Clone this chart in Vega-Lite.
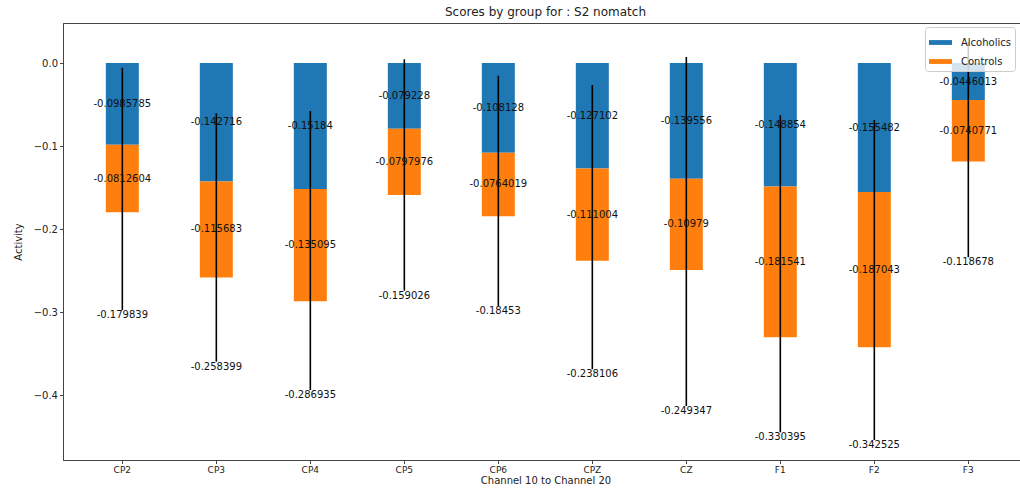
{
  "$schema": "https://vega.github.io/schema/vega-lite/v6.json",
  "width": 957,
  "height": 437,
  "autosize": {"type": "none"},
  "padding": {"left": 63, "top": 23, "right": 0, "bottom": 28},
  "background": "white",
  "config": {
    "font": "DejaVu Sans",
    "view": {"stroke": "#444", "strokeWidth": 1},
    "axis": {"domainColor": "#444", "tickColor": "#444", "labelColor": "#222", "titleColor": "#222", "grid": false, "titleFontWeight": "normal", "labelFont": "DejaVu Sans", "titleFont": "DejaVu Sans"}
  },
  "title": {"text": "Scores by group for : S2 nomatch", "fontSize": 12, "fontWeight": "normal", "font": "DejaVu Sans", "color": "#222", "offset": 4, "dx": 4},
  "datasets": {
    "bars": [
      {"channel": "CP2", "group": "Alcoholics", "value": -0.0985785},
      {"channel": "CP2", "group": "Controls", "value": -0.0812604},
      {"channel": "CP3", "group": "Alcoholics", "value": -0.142716},
      {"channel": "CP3", "group": "Controls", "value": -0.115683},
      {"channel": "CP4", "group": "Alcoholics", "value": -0.15184},
      {"channel": "CP4", "group": "Controls", "value": -0.135095},
      {"channel": "CP5", "group": "Alcoholics", "value": -0.079228},
      {"channel": "CP5", "group": "Controls", "value": -0.0797976},
      {"channel": "CP6", "group": "Alcoholics", "value": -0.108128},
      {"channel": "CP6", "group": "Controls", "value": -0.0764019},
      {"channel": "CPZ", "group": "Alcoholics", "value": -0.127102},
      {"channel": "CPZ", "group": "Controls", "value": -0.111004},
      {"channel": "CZ", "group": "Alcoholics", "value": -0.139556},
      {"channel": "CZ", "group": "Controls", "value": -0.10979},
      {"channel": "F1", "group": "Alcoholics", "value": -0.148854},
      {"channel": "F1", "group": "Controls", "value": -0.181541},
      {"channel": "F2", "group": "Alcoholics", "value": -0.155482},
      {"channel": "F2", "group": "Controls", "value": -0.187043},
      {"channel": "F3", "group": "Alcoholics", "value": -0.0446013},
      {"channel": "F3", "group": "Controls", "value": -0.0740771}
    ],
    "errs": [
      {"channel": "CP2", "total": -0.179839, "errTop": -0.0057, "errLow": -0.2976},
      {"channel": "CP3", "total": -0.258399, "errTop": -0.0606, "errLow": -0.3599},
      {"channel": "CP4", "total": -0.286935, "errTop": -0.0578, "errLow": -0.394},
      {"channel": "CP5", "total": -0.159026, "errTop": 0.0045, "errLow": -0.2743},
      {"channel": "CP6", "total": -0.18453, "errTop": -0.0153, "errLow": -0.2928},
      {"channel": "CPZ", "total": -0.238106, "errTop": -0.0265, "errLow": -0.369},
      {"channel": "CZ", "total": -0.249347, "errTop": 0.0072, "errLow": -0.4133},
      {"channel": "F1", "total": -0.330395, "errTop": -0.063, "errLow": -0.445},
      {"channel": "F2", "total": -0.342525, "errTop": -0.0687, "errLow": -0.4542},
      {"channel": "F3", "total": -0.118678, "errTop": 0.025, "errLow": -0.2341}
    ]
  },
  "layer": [
    {
      "data": {"name": "bars"},
      "transform": [
        {"stack": "value", "groupby": ["channel"], "sort": [{"field": "group", "order": "ascending"}], "as": ["v0", "v1"]}
      ],
      "mark": {"type": "bar"},
      "encoding": {
        "x": {
          "field": "channel", "type": "nominal", "sort": null,
          "scale": {"type": "band", "paddingInner": 0.649, "paddingOuter": 0.415, "align": 0.549},
          "axis": {"orient": "bottom", "labelAngle": 0, "labelFontSize": 9, "tickSize": 3.5, "labelPadding": 2, "title": "Channel 10 to Channel 20", "titleFontSize": 10, "titlePadding": 1, "titleX": 482.5, "domainWidth": 1}
        },
        "y": {
          "field": "v0", "type": "quantitative",
          "scale": {"domain": [-0.4783, 0.0482], "nice": false, "zero": false},
          "axis": {"values": [0, -0.1, -0.2, -0.3, -0.4], "format": ".1f", "labelFontSize": 10, "tickSize": 3.5, "labelPadding": 2, "title": "Activity", "titleFontSize": 10, "titlePadding": 10}
        },
        "y2": {"field": "v1"},
        "color": {
          "field": "group", "type": "nominal",
          "scale": {"domain": ["Alcoholics", "Controls"], "range": ["#1f77b4", "#ff7f0e"]},
          "legend": {
            "orient": "none", "legendX": 862, "legendY": 4, "title": null,
            "fillColor": "rgba(255,255,255,0.8)", "strokeColor": "#cccccc", "cornerRadius": 3, "padding": 4,
            "symbolType": "M-1,-0.21H1V0.21H-1Z", "symbolSize": 529, "symbolStrokeWidth": 0, "symbolOpacity": 1,
            "labelFontSize": 10, "labelFont": "DejaVu Sans", "labelColor": "#222", "labelOffset": 9, "rowPadding": 2
          }
        }
      }
    },
    {
      "mark": {"type": "rule", "color": "#b0b0b0", "strokeWidth": 1},
      "encoding": {"y": {"datum": 0, "type": "quantitative"}}
    },
    {
      "data": {"name": "errs"},
      "mark": {"type": "rule", "color": "black", "strokeWidth": 1.6},
      "encoding": {
        "x": {"field": "channel", "type": "nominal", "sort": null},
        "y": {"field": "errTop", "type": "quantitative"},
        "y2": {"field": "errLow"}
      }
    },
    {
      "data": {"name": "bars"},
      "transform": [
        {"stack": "value", "groupby": ["channel"], "sort": [{"field": "group", "order": "ascending"}], "as": ["v0", "v1"]},
        {"calculate": "(datum.v0 + datum.v1) / 2", "as": "mid"}
      ],
      "mark": {"type": "text", "fontSize": 10, "font": "DejaVu Sans", "color": "#111", "baseline": "middle", "align": "center"},
      "encoding": {
        "x": {"field": "channel", "type": "nominal", "sort": null},
        "y": {"field": "mid", "type": "quantitative"},
        "text": {"field": "value", "type": "nominal"}
      }
    },
    {
      "data": {"name": "errs"},
      "mark": {"type": "text", "fontSize": 10, "font": "DejaVu Sans", "color": "#111", "baseline": "top", "align": "center", "dy": 0},
      "encoding": {
        "x": {"field": "channel", "type": "nominal", "sort": null},
        "y": {"field": "errLow", "type": "quantitative"},
        "text": {"field": "total", "type": "nominal"}
      }
    }
  ]
}
